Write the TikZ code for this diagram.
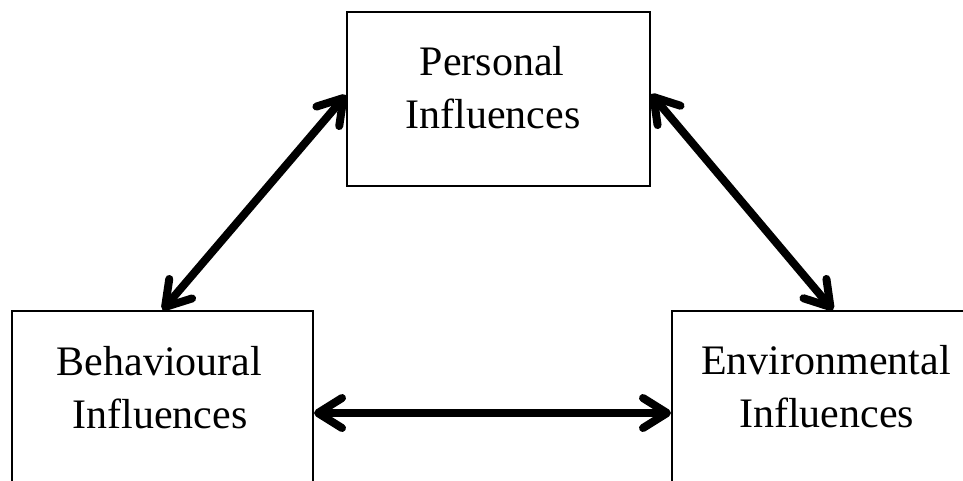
\documentclass[tikz,border=0pt]{standalone}
\usepackage{fontspec}
\setmainfont{Liberation Serif}
\usetikzlibrary{arrows.meta}
\tikzset{
  box/.style={draw=black, line width=2pt, fill=none, inner sep=0pt},
  lbl/.style={anchor=base, inner sep=0pt, font=\fontsize{42pt}{53pt}\selectfont},
  link/.style={line width=8pt, {Straight Barb[length=24pt, width=30pt, round]}-{Straight Barb[length=24pt, width=30pt, round]}}
}
\begin{document}
\begin{tikzpicture}[x=1pt, y=-1pt]
  \clip (0,0) rectangle (963,480);
  \fill[white] (0,0) rectangle (963,480);
  % the three boxes
  \node[box, minimum width=303pt, minimum height=174pt] (per) at (498.5,99) {};
  \node[box, minimum width=301pt, minimum height=204pt] (beh) at (162.5,413) {};
  \node[box, minimum width=322pt, minimum height=204pt] (env) at (833,413) {};
  % labels
  \node[lbl] (perA) at (492,75) {Personal};
  \node[lbl] (perB) at (493,128) {Influences};
  \node[lbl] (behA) at (159.5,375) {Behavioural};
  \node[lbl] (behB) at (160,428) {Influences};
  \node[lbl] (envA) at (826,374) {Environmental};
  \node[lbl] (envB) at (826.5,427) {Influences};
  % two-way links
  \draw[link] ([yshift=4pt]per.west) -- (beh.north);
  \draw[link] ([yshift=5pt]per.east) -- (env.north);
  \draw[link] (beh.east) -- (env.west);
\end{tikzpicture}
\end{document}
